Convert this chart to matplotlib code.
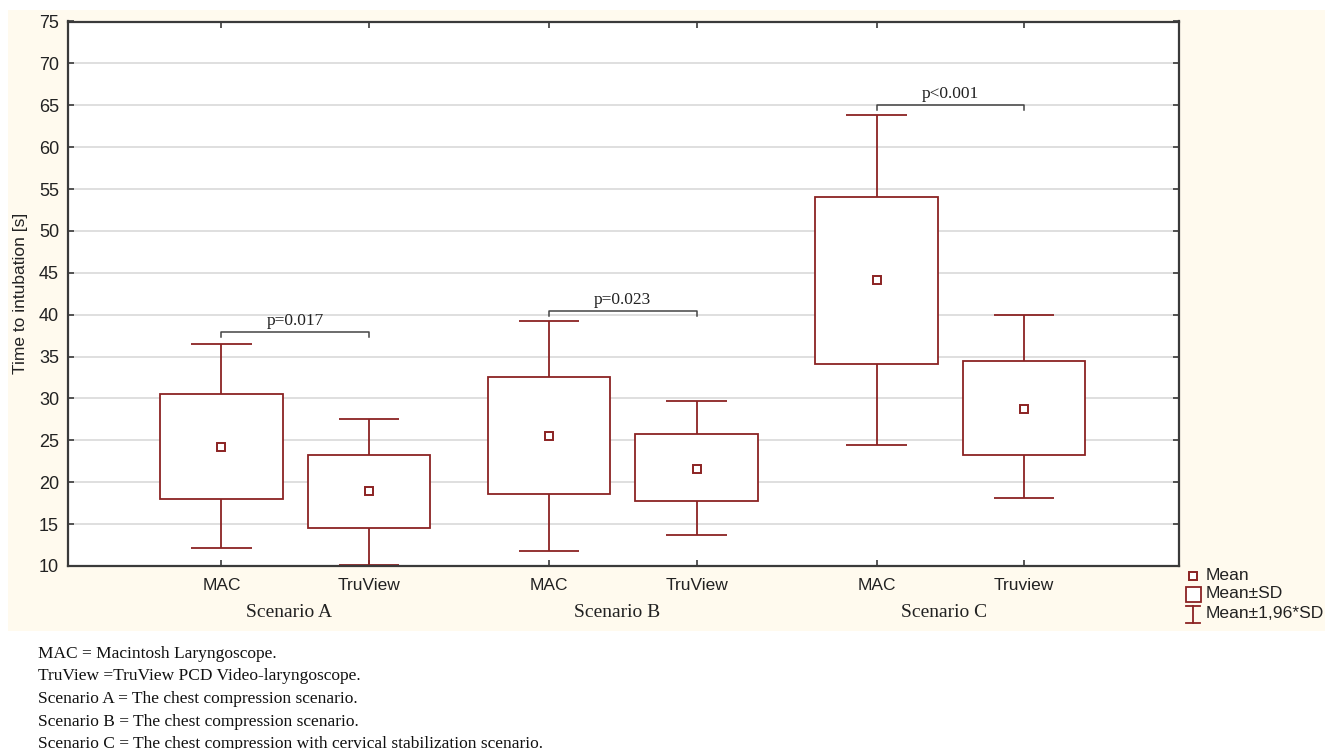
import matplotlib.pyplot as plt
from matplotlib.patches import Rectangle
from matplotlib.lines import Line2D

# -------------------------
# Data
# -------------------------
scenarios = ["Scenario A", "Scenario B", "Scenario C"]
devices = ["MAC", "TruView", "MAC", "TruView", "MAC", "Truview"]
means = [24.2, 19.0, 25.5, 21.6, 44.1, 28.8]
sd_low = [18.0, 14.5, 18.6, 17.8, 34.1, 23.3]
sd_high = [30.5, 23.3, 32.6, 25.8, 54.1, 34.5]
ci_low = [12.1, 10.1, 11.8, 13.7, 24.4, 18.1]
ci_high = [36.5, 27.6, 39.3, 29.7, 63.8, 40.0]
p_labels = ["p=0.017", "p=0.023", "p<0.001"]
p_heights = [37.9, 40.4, 65.0]

captions = [
    "MAC = Macintosh Laryngoscope.",
    "TruView =TruView PCD Video-laryngoscope.",
    "Scenario A = The chest compression scenario.",
    "Scenario B = The chest compression scenario.",
    "Scenario C = The chest compression with cervical stabilization scenario.",
]

# layout
xpos = [0, 1, 2.22, 3.22, 4.44, 5.44]
box_w = 0.83
cap_w = 0.41
red = "#8B2323"
spine_col = "#3a3a3a"
cream = "#FFFAEE"

fig = plt.figure(figsize=(13.36, 7.49), dpi=100)
W, H = 1336, 749

# cream background behind chart
fig.patches.append(Rectangle((8 / W, 1 - 631 / H), (1325 - 8) / W, (631 - 10) / H,
                             transform=fig.transFigure, facecolor=cream,
                             edgecolor="none", zorder=-5))

ax = fig.add_axes([68 / W, 1 - 566 / H, (1179 - 68) / W, (566 - 21.5) / H])
ax.set_zorder(1)
ax.set_facecolor("white")
ax.set_xlim(-1.04, 6.49)
ax.set_ylim(10, 75)
ax.set_yticks(range(10, 80, 5))
ax.yaxis.grid(True, color="#d9d9d9", lw=1.2, zorder=0)
ax.set_axisbelow(True)

for i, x in enumerate(xpos):
    # whiskers
    ax.vlines(x, ci_low[i], ci_high[i], color=red, lw=1.3, zorder=2)
    ax.hlines([ci_low[i], ci_high[i]], x - cap_w / 2, x + cap_w / 2, color=red, lw=1.3, zorder=2)
    # SD box
    ax.bar(x, sd_high[i] - sd_low[i], bottom=sd_low[i], width=box_w,
           facecolor="white", edgecolor=red, lw=1.3, zorder=3)
    # mean
    ax.plot(x, means[i], marker="s", ms=6, mfc="white", mec=red, mew=1.4, zorder=4)

# significance brackets
for k in range(3):
    x1, x2 = xpos[2 * k], xpos[2 * k + 1]
    y = p_heights[k]
    ax.plot([x1, x1, x2, x2], [y - 0.55, y, y, y - 0.55], color="#444444", lw=1.1, zorder=2)
    ax.text((x1 + x2) / 2, y + 0.35, p_labels[k], ha="center", va="bottom",
            fontsize=12.5, family="Liberation Serif", color="#222222")

ax.set_xticks(xpos)
ax.set_xticklabels(devices, fontsize=12.5, family="Liberation Sans", color="#222222")
ax.tick_params(axis="both", direction="in", length=4, width=1.2, color=spine_col,
               top=True, right=True)
ax.tick_params(axis="x", pad=9)
ax.tick_params(axis="y", pad=6.5, labelsize=13)
for lab in ax.get_yticklabels():
    lab.set_family("Liberation Sans")
    lab.set_color("#222222")
for s in ax.spines.values():
    s.set_color(spine_col)
    s.set_linewidth(1.6)

ax.set_ylabel("Time to intubation [s]", fontsize=12.5, family="Liberation Sans",
              color="#222222", labelpad=8)

# scenario labels
for k, name in enumerate(scenarios):
    xm = (xpos[2 * k] + xpos[2 * k + 1]) / 2 - 0.04
    ax.text(xm, -0.086, name, transform=ax.get_xaxis_transform(), ha="center", va="center",
            fontsize=14, family="Liberation Serif", color="#222222")

# legend drawn manually
def fx(px):
    return px / W


def fy(py):
    return 1 - py / H


fig.add_artist(Line2D([fx(1193)], [fy(576)], marker="s", ms=6, mfc="white", mec=red, mew=1.4,
                      transform=fig.transFigure))
fig.add_artist(Rectangle((fx(1186), fy(602)), 15 / W, 15 / H, transform=fig.transFigure,
                         facecolor="white", edgecolor=red, lw=1.3))
fig.add_artist(Line2D([fx(1193), fx(1193)], [fy(606), fy(623)], color=red, lw=1.3,
                      transform=fig.transFigure))
fig.add_artist(Line2D([fx(1186), fx(1200)], [fy(606), fy(606)], color=red, lw=1.3,
                      transform=fig.transFigure))
fig.add_artist(Line2D([fx(1186), fx(1200)], [fy(623), fy(623)], color=red, lw=1.3,
                      transform=fig.transFigure))
for txt, py in zip(["Mean", "Mean±SD", "Mean±1,96*SD"], [575, 594, 614]):
    fig.text(fx(1206), fy(py), txt, ha="left", va="center", fontsize=12.6,
             family="Liberation Sans", color="#222222")

# caption
for j, line in enumerate(captions):
    fig.text(fx(38), fy(654 + 22.5 * j), line, ha="left", va="center", fontsize=12.5,
             family="Liberation Serif", color="#111111")

fig.savefig("out.png", dpi=100, facecolor="white")
